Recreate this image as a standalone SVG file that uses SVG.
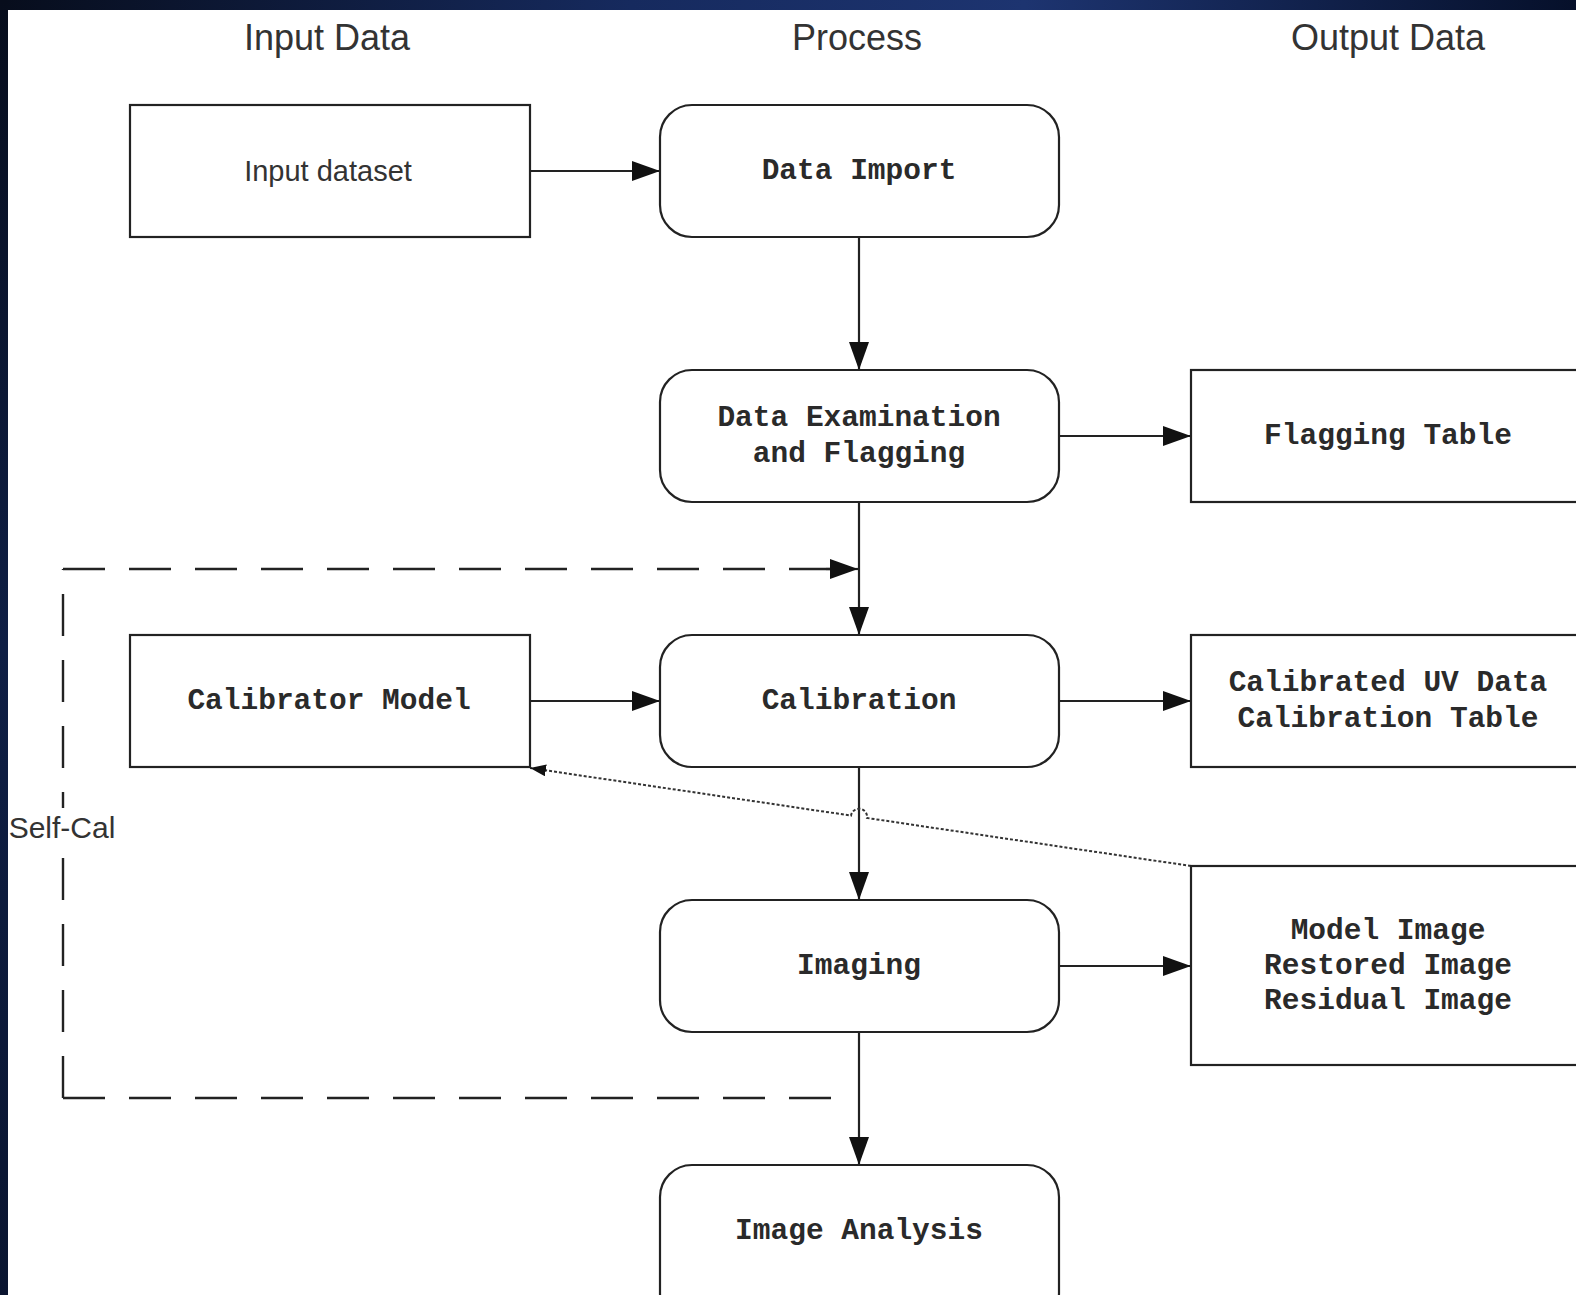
<svg xmlns="http://www.w3.org/2000/svg" width="1576" height="1295" viewBox="0 0 1576 1295">
<defs>
<linearGradient id="topbar" x1="0" y1="0" x2="1" y2="0">
<stop offset="0" stop-color="#070d1c"/>
<stop offset="0.4" stop-color="#162a5e"/>
<stop offset="0.65" stop-color="#1d3470"/>
<stop offset="1" stop-color="#06102a"/>
</linearGradient>
<linearGradient id="leftbar" x1="0" y1="0" x2="0" y2="1">
<stop offset="0" stop-color="#070d1c"/>
<stop offset="0.5" stop-color="#0f1f45"/>
<stop offset="1" stop-color="#0a1530"/>
</linearGradient>
<marker id="arr" viewBox="0 0 28 20" refX="28" refY="10" markerWidth="28" markerHeight="20" markerUnits="userSpaceOnUse" orient="auto">
<path d="M0,0 L28,10 L0,20 z" fill="#111"/>
</marker>
<marker id="arrs" viewBox="0 0 16 12" refX="16" refY="6" markerWidth="16" markerHeight="12" markerUnits="userSpaceOnUse" orient="auto">
<path d="M0,0 L16,6 L0,12 z" fill="#111"/>
</marker>
</defs>
<style>
.box{fill:#fff;stroke:#222;stroke-width:2.2}
.mono{font-family:"Liberation Mono","Courier New",monospace;font-weight:bold;font-size:29.5px;fill:#2a2a2a;text-anchor:middle;dominant-baseline:central}
.sans{font-family:"Liberation Sans",Arial,sans-serif;fill:#333;text-anchor:middle}
.head{font-size:36px}
.conn{fill:none;stroke:#222;stroke-width:2.2}
.dash{fill:none;stroke:#222;stroke-width:2.4;stroke-dasharray:42 24}
.dot{fill:none;stroke:#333;stroke-width:2;stroke-dasharray:3 2}
</style>
<rect x="0" y="0" width="1576" height="1295" fill="#fff"/>
<rect x="0" y="0" width="1576" height="10" fill="url(#topbar)"/>
<rect x="0" y="0" width="8" height="1295" fill="url(#leftbar)"/>

<g id="headers">
<text class="sans head" x="327" y="50">Input Data</text>
<text class="sans head" x="857" y="50">Process</text>
<text class="sans head" x="1388" y="50">Output Data</text>
</g>

<g id="connectors">
<line class="conn" x1="530" y1="171" x2="660" y2="171" marker-end="url(#arr)"/>
<line class="conn" x1="859" y1="237" x2="859" y2="370" marker-end="url(#arr)"/>
<line class="conn" x1="1059" y1="436" x2="1191" y2="436" marker-end="url(#arr)"/>
<line class="conn" x1="859" y1="502" x2="859" y2="635" marker-end="url(#arr)"/>
<line class="conn" x1="530" y1="701" x2="660" y2="701" marker-end="url(#arr)"/>
<line class="conn" x1="1059" y1="701" x2="1191" y2="701" marker-end="url(#arr)"/>
<line class="conn" x1="859" y1="767" x2="859" y2="900" marker-end="url(#arr)"/>
<line class="conn" x1="1059" y1="966" x2="1191" y2="966" marker-end="url(#arr)"/>
<line class="conn" x1="859" y1="1032" x2="859" y2="1165" marker-end="url(#arr)"/>
<path class="dash" d="M63,1098 H836"/>
<path class="dash" d="M63,1098 V569"/>
<path class="dash" d="M63,569 H830"/>
<line class="conn" x1="826" y1="569" x2="858" y2="569" marker-end="url(#arr)"/>
<path class="dot" d="M1191,866 L867,818 A8,8 0 0 0 851,815.6 L530,768" marker-end="url(#arrs)"/>
</g>

<g id="selfcal">
<rect x="9" y="808" width="110" height="38" fill="#fff"/>
<text class="sans" x="62" y="838" font-size="30">Self-Cal</text>
</g>

<g id="input-dataset">
<rect class="box" x="130" y="105" width="400" height="132"/>
<text class="sans" x="328" y="181" font-size="29">Input dataset</text>
</g>
<g id="data-import">
<rect class="box" x="660" y="105" width="399" height="132" rx="32" ry="32"/>
<text class="mono" x="859" y="171">Data Import</text>
</g>
<g id="data-examination">
<rect class="box" x="660" y="370" width="399" height="132" rx="32" ry="32"/>
<text class="mono" x="859" y="418">Data Examination</text>
<text class="mono" x="859" y="454">and Flagging</text>
</g>
<g id="flagging-table">
<rect class="box" x="1191" y="370" width="420" height="132"/>
<text class="mono" x="1388" y="436">Flagging Table</text>
</g>
<g id="calibrator-model">
<rect class="box" x="130" y="635" width="400" height="132"/>
<text class="mono" x="329" y="701">Calibrator Model</text>
</g>
<g id="calibration">
<rect class="box" x="660" y="635" width="399" height="132" rx="32" ry="32"/>
<text class="mono" x="859" y="701">Calibration</text>
</g>
<g id="calibrated-uv">
<rect class="box" x="1191" y="635" width="420" height="132"/>
<text class="mono" x="1388" y="683">Calibrated UV Data</text>
<text class="mono" x="1388" y="719">Calibration Table</text>
</g>
<g id="imaging">
<rect class="box" x="660" y="900" width="399" height="132" rx="32" ry="32"/>
<text class="mono" x="859" y="966">Imaging</text>
</g>
<g id="images">
<rect class="box" x="1191" y="866" width="420" height="199"/>
<text class="mono" x="1388" y="931">Model Image</text>
<text class="mono" x="1388" y="966">Restored Image</text>
<text class="mono" x="1388" y="1001">Residual Image</text>
</g>
<g id="image-analysis">
<rect class="box" x="660" y="1165" width="399" height="160" rx="32" ry="32"/>
<text class="mono" x="859" y="1231">Image Analysis</text>
</g>
</svg>
